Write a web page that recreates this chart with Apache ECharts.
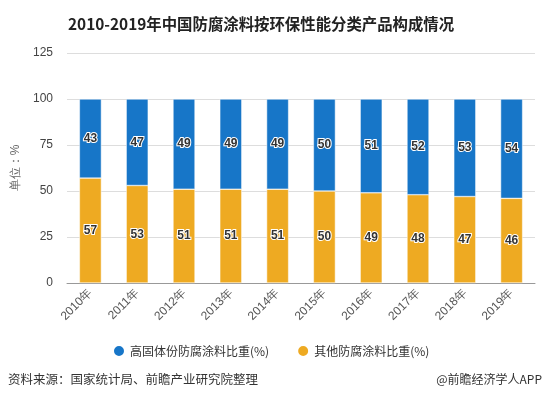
<!DOCTYPE html>
<html><head><meta charset="utf-8">
<script src="https://cdn.jsdelivr.net/npm/echarts@6/dist/echarts.min.js"></script>
<style>html,body{margin:0;padding:0;background:#fff;}#c{width:550px;height:409px;}</style>
</head><body><div id="c"></div>
<script>
const categories = ['2010年','2011年','2012年','2013年','2014年','2015年','2016年','2017年','2018年','2019年'];
const highSolid = [43,47,49,49,49,50,51,52,53,54];
const others = [57,53,51,51,51,50,49,48,47,46];
const seriesNames = ['高固体份防腐涂料比重(%)','其他防腐涂料比重(%)'];
const yTicks = [0,25,50,75,100,125];

const chart = echarts.init(document.getElementById('c'));
const labelStyle = {show:true, position:'inside', color:'#333', fontWeight:'bold', fontSize:12,
  fontFamily:'Arial, "Liberation Sans", sans-serif', textBorderColor:'#fff', textBorderWidth:2};
chart.setOption({
  backgroundColor:'#fff',
  animation:false,
  title:{text:'2010-2019年中国防腐涂料按环保性能分类产品构成情况', left:63, top:11,
    textStyle:{fontSize:15.4, fontWeight:'bold', color:'#222', fontFamily:'"Noto Sans CJK SC", sans-serif'}},
  legend:{data:seriesNames, bottom:46, left:107, icon:'circle', itemWidth:12, itemHeight:12, itemGap:27,
    textStyle:{fontSize:12, color:'#333', fontFamily:'"Noto Sans CJK SC", sans-serif'}},
  grid:{left:67, right:15, top:53, bottom:126},
  xAxis:{type:'category', data:categories,
    axisLine:{lineStyle:{color:'#999'}}, axisTick:{alignWithLabel:true, lineStyle:{color:'#999'}},
    axisLabel:{rotate:45, color:'#555', fontSize:12, margin:8}},
  yAxis:{type:'value', min:yTicks[0], max:yTicks[yTicks.length-1], interval:25,
    name:'单位：%', nameLocation:'middle', nameGap:44, nameRotate:90,
    nameTextStyle:{color:'#666', fontSize:12},
    axisLine:{show:false}, axisTick:{show:false},
    axisLabel:{color:'#444', fontSize:12, margin:14},
    splitLine:{lineStyle:{color:'#ddd'}}},
  series:[
    {name:seriesNames[1], type:'bar', stack:'a', data:others, barWidth:22,
      itemStyle:{color:'#eeaa22', borderColor:'#fff', borderWidth:0.5}, label:labelStyle},
    {name:seriesNames[0], type:'bar', stack:'a', data:highSolid, barWidth:22,
      itemStyle:{color:'#1776c8', borderColor:'#fff', borderWidth:0.5}, label:labelStyle}
  ],
  graphic:[
    {type:'text', left:8, top:373, style:{text:'资料来源：国家统计局、前瞻产业研究院整理', fontSize:12.5, fill:'#333', fontFamily:'"Noto Sans CJK SC", sans-serif'}},
    {type:'text', right:8, top:373, style:{text:'@前瞻经济学人APP', fontSize:12, fill:'#333', fontFamily:'"Noto Sans CJK SC", sans-serif'}}
  ]
});
</script></body></html>
